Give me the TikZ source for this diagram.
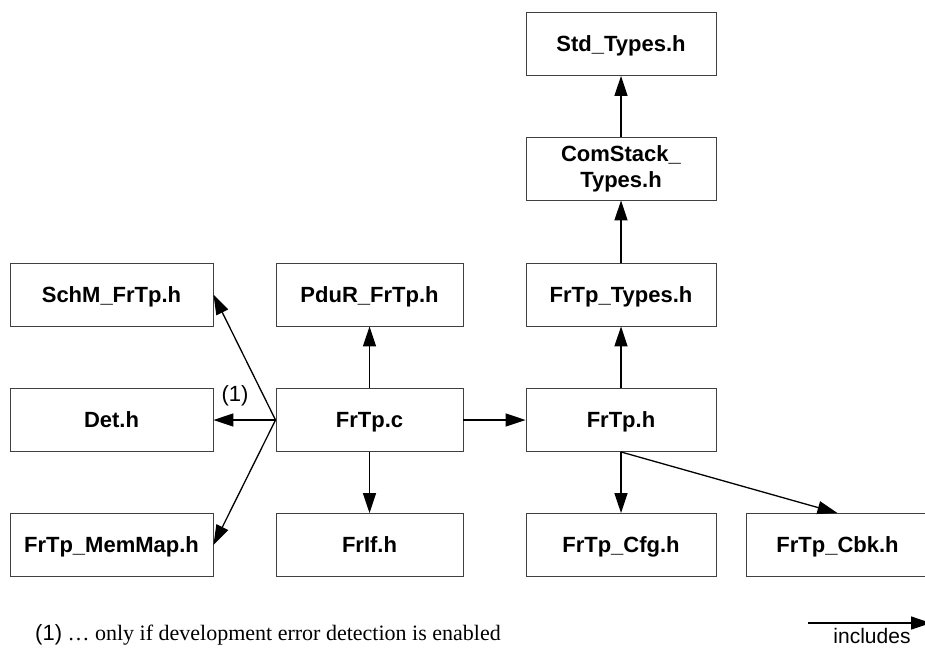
\documentclass[tikz,border=0pt]{standalone}
\usepackage{fontspec}
\setmainfont{Liberation Serif}
\setsansfont{Liberation Sans}
\usetikzlibrary{arrows.meta}

\tikzset{
  file/.style={draw=black!75, line width=0.9pt, minimum width=#1, minimum height=63pt,
    inner sep=0pt, align=center, text height=15.8pt, text depth=0pt,
    font=\sffamily\bfseries\fontsize{22}{26}\selectfont},
  file/.default=190pt,
  inc/.style={line width=1.3pt, -{Triangle[length=20pt,width=13pt]}}
}

\begin{document}
\begin{tikzpicture}[x=1pt,y=-1pt]
                \useasboundingbox (0,0) rectangle (925,648);

                % left column
                \node[file=203pt] (schm) at (111.5,294.5) {SchM\_FrTp.h};
                \node[file=203pt] (det) at (111.5,420) {Det.h};
                \node[file=203pt] (memmap) at (111.5,545) {FrTp\_MemMap.h};
                % FrTp.c column
                \node[file=187pt] (pdur) at (369.5,294.5) {PduR\_FrTp.h};
                \node[file=187pt] (frtpc) at (369.5,420) {FrTp.c};
                \node[file=187pt] (frif) at (369.5,545) {FrIf.h};
                % FrTp.h column
                \node[file] (stdtypes) at (621,44) {Std\_Types.h};
                \node[file, text height=, text depth=] (comstack) at (621,168.5) {ComStack\_\\Types.h};
                \node[file] (frtptypes) at (621,294.5) {FrTp\_Types.h};
                \node[file] (frtph) at (621,420) {FrTp.h};
                \node[file] (frtpcfg) at (621,545) {FrTp\_Cfg.h};
                \node[file=183pt] (frtpcbk) at (837.5,545) {FrTp\_Cbk.h};

                % includes of FrTp.c
                \draw[inc] (frtpc.west) -- (schm.east);
                \draw[inc] (frtpc.west) -- (det.east);
                \draw[inc] (frtpc.west) -- (memmap.east);
                \draw[inc] (frtpc.north) -- (pdur.south);
                \draw[inc] (frtpc.south) -- (frif.north);
                \draw[inc] (frtpc.east) -- (frtph.west);
                \node[font=\sffamily\fontsize{22}{26}\selectfont] (note) at (235,396) {(1)};

                % includes of FrTp.h
                \draw[inc] (frtph.north) -- (frtptypes.south);
                \draw[inc] (frtptypes.north) -- (comstack.south);
                \draw[inc] (comstack.north) -- (stdtypes.south);
                \draw[inc] (frtph.south) -- (frtpcfg.north);
                \draw[inc] (frtph.south) -- (frtpcbk.north);

                % footnote and legend
                \node[anchor=west, inner sep=0pt, font=\fontsize{22}{26}\selectfont] (footnote) at (35,635)
                  {\sffamily(1)\rmfamily{} … only if development error detection is enabled};
                \coordinate (legstart) at (808,623);
                \coordinate (legend) at (931,623);
                \draw[inc] (legstart) -- (legend);
                \node[font=\sffamily\fontsize{21}{24}\selectfont, inner sep=0pt] (legtext) at (872,636) {includes};
            \end{tikzpicture}
\end{document}
